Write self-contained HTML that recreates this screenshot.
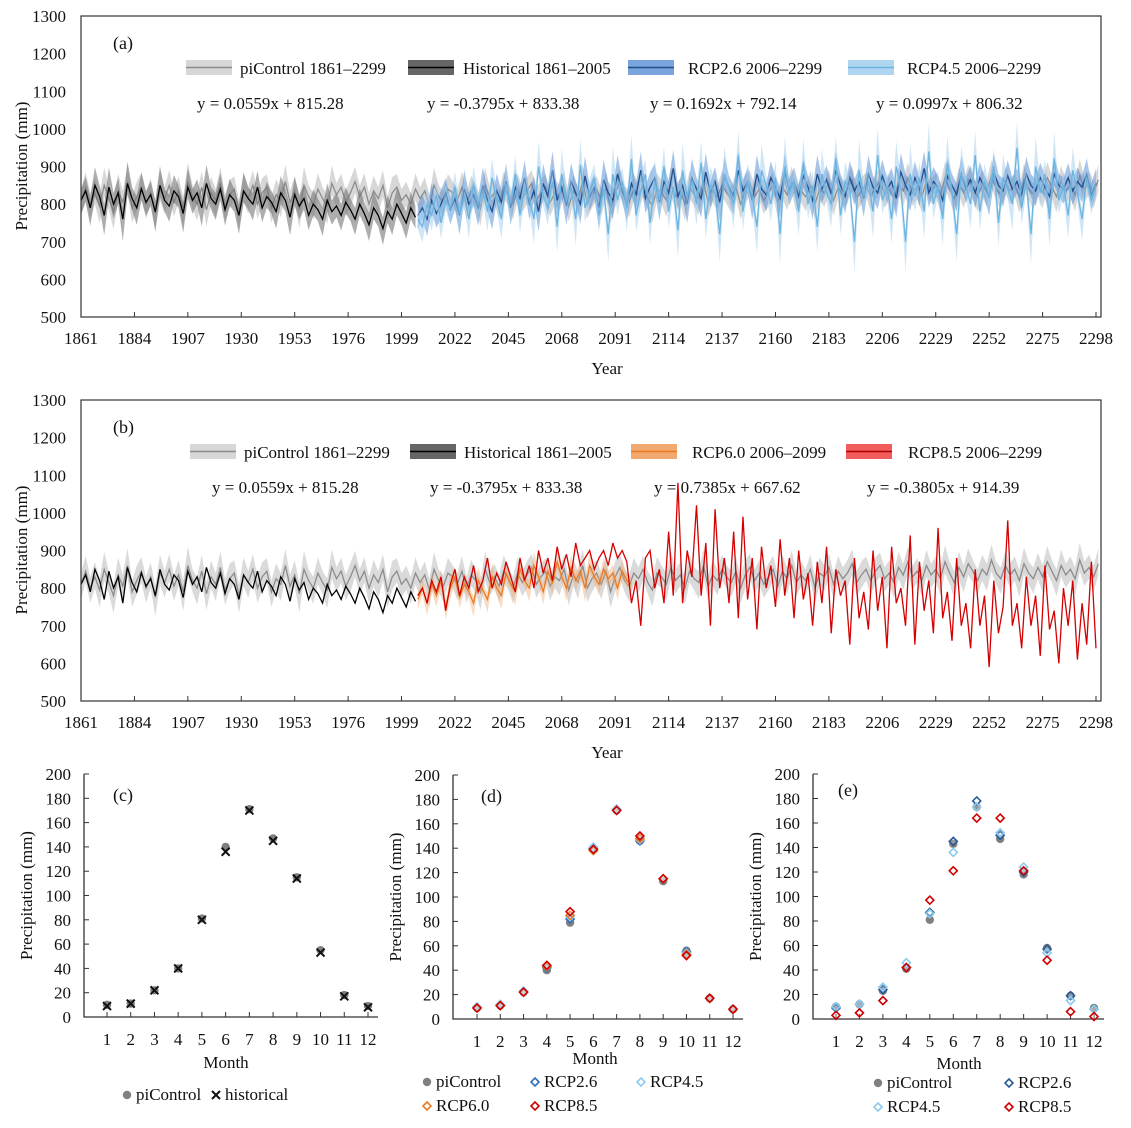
<!DOCTYPE html>
<html><head><meta charset="utf-8">
<style>
html,body{margin:0;padding:0;background:#fff;}
svg, svg text{font-family:"Liberation Serif","Times New Roman",serif;}
svg{display:block;}
</style></head>
<body>
<svg id="fig" width="1131" height="1128" viewBox="0 0 1131 1128" xmlns="http://www.w3.org/2000/svg" font-family="Liberation Serif, serif"></svg>
<script>
// ---------- annual series data (every 2 years) ----------
const piStart = 1861;
const piValues = [810,845,800,830,795,850,815,780,835,805,860,790,820,845,800,830,775,840,815,850,
805,835,790,860,820,800,845,785,830,810,855,795,825,840,780,835,815,850,800,830,
845,790,825,810,860,805,835,785,850,820,800,840,815,795,855,825,845,805,830,860,
820,845,800,835,815,850,790,830,845,810,825,800,840,815,835,795,850,820,805,840,
830,810,845,800,835,820,790,850,815,830,805,845,825,800,840,815,835,855,810,830,
845,805,830,820,850,795,835,815,860,800,825,840,810,845,790,830,855,820,805,840,
825,850,815,795,840,830,810,855,820,835,800,845,825,815,860,805,835,820,850,830,
815,845,800,835,855,820,840,810,830,850,805,845,825,860,815,835,820,850,800,840,
830,855,810,845,825,840,865,815,835,850,820,845,860,825,840,815,855,835,870,830,
845,820,860,835,850,825,870,840,815,855,830,865,845,820,850,835,875,840,825,860,
835,850,820,865,840,825,855,830,870,845,820,860,835,850,825,875,840,855,830,865];
const histStart = 1861;
const histValues = [810,835,790,850,820,770,845,800,830,760,855,815,790,840,805,825,780,850,810,795,
835,820,775,845,810,830,790,855,815,800,840,785,825,810,770,835,815,800,845,790,
820,805,780,830,810,765,825,795,815,770,800,785,760,810,780,795,770,805,785,760,
800,775,745,790,770,735,780,760,800,775,750,790,765];
const rcpStart = 2006;
const rcp26Values = [770,790,760,810,775,800,830,785,815,770,840,800,825,790,850,810,780,835,805,860,
790,845,815,870,800,835,780,855,820,890,810,845,795,860,830,800,875,820,845,790,
865,830,810,880,835,800,855,825,890,815,845,870,805,860,830,895,820,850,800,870,
840,815,885,830,860,805,875,845,820,890,835,860,810,880,840,825,870,845,815,885,
835,860,820,875,845,810,880,840,865,825,890,850,820,870,835,860,815,880,845,830,
875,840,860,815,885,850,825,870,840,895,830,860,845,810,875,850,825,880,840,865,
830,870,845,820,885,850,835,875,840,860,825,880,850,835,870,845,820,880,850,840,
870,835,860,845,880,825,855];
const rcp45Values = [760,740,800,770,825,750,810,790,845,775,820,760,850,800,835,780,870,810,760,855,
800,880,770,840,815,760,900,820,790,860,740,880,810,845,760,905,790,830,870,770,
840,720,880,810,860,790,920,770,835,880,750,860,810,900,780,845,730,890,820,860,
800,910,760,850,830,720,880,840,800,930,780,860,820,740,890,850,800,870,720,900,
830,860,780,910,800,850,740,880,830,800,920,770,860,840,700,890,820,860,780,930,
810,850,760,900,840,700,880,820,870,780,940,800,850,760,910,830,720,880,850,800,
930,780,860,820,900,750,870,840,800,950,790,860,720,900,830,880,760,920,810,850,
770,890,830,760,870,810,850];
const rcp60Values = [770,800,760,810,780,820,750,800,830,775,810,790,760,820,795,770,830,800,780,840,
810,790,850,820,800,860,830,790,845,815,870,830,800,855,820,845,800,860,830,810,850,825,840,800,845,820,810];
const rcp85Values = [780,800,760,820,790,830,740,810,850,780,830,800,860,790,820,880,800,840,810,870,
830,790,880,820,860,800,900,840,880,820,910,850,890,830,920,860,880,900,850,880,
900,860,920,880,900,870,760,820,700,880,900,800,850,760,950,780,1080,760,900,830,
1020,780,920,700,1010,800,880,760,950,720,990,770,880,690,910,800,860,750,930,780,
880,720,900,770,840,700,870,760,910,680,850,780,820,650,880,720,790,690,900,740,
830,640,910,760,800,700,940,650,870,740,820,680,960,720,790,660,880,700,760,640,
850,700,780,590,820,680,750,980,700,760,640,830,700,780,620,860,690,740,600,800,
700,820,610,760,650,870,640];
const yearStep = 2;
const yearTicks = [1861,1884,1907,1930,1953,1976,1999,2022,2045,2068,2091,2114,2137,2160,2183,2206,2229,2252,2275,2298];
const precipTicks = [500,600,700,800,900,1000,1100,1200,1300];

// ---------- monthly data ----------
const months = [1,2,3,4,5,6,7,8,9,10,11,12];
const monthTicks = [0,20,40,60,80,100,120,140,160,180,200];
const cPi   = [10,11,22,40,81,140,171,147,115,55,18,9];
const cHist = [9,11,22,40,80,136,170,145,114,53,17,8];
const dPi   = [9,11,22,40,79,139,171,146,113,56,17,8];
const d26   = [9,11,22,42,82,140,172,146,115,55,17,8];
const d45   = [10,12,23,43,84,141,172,147,115,54,17,8];
const d60   = [9,11,22,43,85,138,171,148,115,53,17,8];
const d85   = [9,11,22,44,88,139,171,150,115,52,17,8];
const ePi   = [10,12,23,41,81,143,173,147,118,58,19,9];
const e26   = [9,12,24,42,87,145,178,150,120,57,19,8];
const e45   = [10,12,26,46,86,136,173,152,124,54,15,8];
const e85   = [3,5,15,42,97,121,164,164,121,48,6,2];

const NS = "http://www.w3.org/2000/svg";
const svg = document.getElementById('fig');
function mk(tag, attrs, parent){
  const e = document.createElementNS(NS, tag);
  for (const k in attrs) e.setAttribute(k, attrs[k]);
  (parent||svg).appendChild(e);
  return e;
}
function txt(s, x, y, size, anchor, parent){
  const t = mk('text', {x:x, y:y, 'font-size':size, 'text-anchor':anchor||'start', fill:'#111', 'font-family':'Liberation Serif, Times New Roman, serif'}, parent);
  t.textContent = s;
  return t;
}

// ---------- time series panel ----------
function tsPanel(top, label, series, legend, eqs){
  const g = mk('g', {});
  
  
  const L = 81, R = 1101, T = top, B = top + 301;
  const xs = yr => L + (yr - 1861) * (1096 - 81) / (2298 - 1861);
  const ys = v => B - (v - 500) * (B - T) / 800;
  series.forEach(s => {
    const pts = s.values.map((v, i) => [xs(s.start + yearStep * i), ys(v)]);
    if (s.band) {
      const hi = s.values.map((v, i) => {
        const prev = i > 0 ? s.values[i-1] : v;
        return [xs(s.start + yearStep*i), ys(v + s.spread + Math.max(0, v - prev) * 0.3)];
      });
      const lo = s.values.map((v, i) => {
        const nxt = i < s.values.length-1 ? s.values[i+1] : v;
        return [xs(s.start + yearStep*i), ys(v - s.spread - Math.max(0, nxt - v) * 0.3)];
      }).reverse();
      const band = mk('polygon', {points: hi.concat(lo).map(p => p.join(',')).join(' '), fill: s.band, 'fill-opacity': s.bandOp}, g);
      
      
    }
    const line = mk('polyline', {points: pts.map(p => p.join(',')).join(' '), fill:'none', stroke: s.color, 'stroke-width': 1.3}, g);
    
    
  });
  const frame = mk('rect', {x:L, y:T, width:R-L, height:B-T, fill:'none', stroke:'#333', 'stroke-width':1.2}, g);
  
  
  precipTicks.forEach(v => {
    const t = txt(v, 66, ys(v) + 6, 17, 'end', g);
    
    
  });
  yearTicks.forEach(yr => {
    const tk = mk('line', {x1:xs(yr), x2:xs(yr), y1:B, y2:B-5, stroke:'#333'}, g);
    
    
    const t = txt(yr, xs(yr), B + 27, 17, 'middle', g);
    
    
  });
  const xt = txt('Year', 607, B + 57, 17, 'middle', g);
  
  
  const yt = txt('Precipitation (mm)', 0, 0, 17, 'middle', g);
  yt.setAttribute('transform', 'translate(27,' + (T + 150) + ') rotate(-90)');
  
  
  const pl = txt('(' + label + ')', 113, T + 33, 18, 'start', g);
  
  
  legend.forEach(l => {
    const sw = mk('rect', {x:l.x, y:T+44, width:46, height:15, fill:l.band, 'fill-opacity':0.9}, g);
    
    
    const ln = mk('line', {x1:l.x, x2:l.x+46, y1:T+51.5, y2:T+51.5, stroke:l.color, 'stroke-width':1.5}, g);
    
    
    const t = txt(l.text, l.tx, T + 58, 17, 'start', g);
    
    
  });
  eqs.forEach(e => {
    const t = txt(e.text, e.x, T + 93, 17, 'start', g);
    
    
  });
}

tsPanel(16, 'a', [
  {name:'picontrol', start:piStart, values:piValues, color:'#8c8c8c', band:'#d0d0d0', bandOp:0.85, spread:30},
  {name:'historical', start:histStart, values:histValues, color:'#000', band:'#777', bandOp:0.6, spread:30},
  {name:'rcp26', start:rcpStart, values:rcp26Values, color:'#1f4e8c', band:'#4d8ad6', bandOp:0.5, spread:30},
  {name:'rcp45', start:rcpStart, values:rcp45Values, color:'#6ab4e0', band:'#9fcdee', bandOp:0.5, spread:25}
],[
  {x:186, tx:240, text:'piControl 1861–2299', band:'#d3d3d3', color:'#8c8c8c'},
  {x:408, tx:463, text:'Historical 1861–2005', band:'#555', color:'#000'},
  {x:628, tx:688, text:'RCP2.6 2006–2299', band:'#6a9ad8', color:'#1f4e8c'},
  {x:848, tx:907, text:'RCP4.5 2006–2299', band:'#a7d0ef', color:'#6ab4e0'}
],[
  {x:197, text:'y = 0.0559x + 815.28'},
  {x:427, text:'y = -0.3795x + 833.38'},
  {x:650, text:'y = 0.1692x + 792.14'},
  {x:876, text:'y = 0.0997x + 806.32'}
]);

tsPanel(400, 'b', [
  {name:'picontrol', start:piStart, values:piValues, color:'#8c8c8c', band:'#d3d3d3', bandOp:0.85, spread:30},
  {name:'historical', start:histStart, values:histValues, color:'#000'},
  {name:'rcp60', start:rcpStart, values:rcp60Values, color:'#ea7a22', band:'#f2a364', bandOp:0.4, spread:18},
  {name:'rcp85', start:rcpStart, values:rcp85Values, color:'#d40000'}
],[
  {x:190, tx:244, text:'piControl 1861–2299', band:'#d3d3d3', color:'#8c8c8c'},
  {x:410, tx:464, text:'Historical 1861–2005', band:'#555', color:'#000'},
  {x:631, tx:692, text:'RCP6.0 2006–2099', band:'#f0a060', color:'#ea7a22'},
  {x:846, tx:908, text:'RCP8.5 2006–2299', band:'#f04a4a', color:'#b00000'}
],[
  {x:212, text:'y = 0.0559x + 815.28'},
  {x:430, text:'y = -0.3795x + 833.38'},
  {x:654, text:'y = 0.7385x + 667.62'},
  {x:867, text:'y = -0.3805x + 914.39'}
]);

// ---------- monthly panels ----------
function marker(g, kind, x, y, color){
  let m;
  if (kind === 'dot') {
    m = mk('circle', {cx:x, cy:y, r:4.2, fill:color}, g);
  } else if (kind === 'cross') {
    m = mk('path', {d:`M${x-4},${y-4}L${x+4},${y+4}M${x-4},${y+4}L${x+4},${y-4}`, stroke:color, 'stroke-width':2}, g);
  } else {
    m = mk('path', {d:`M${x},${y-4}L${x+4},${y}L${x},${y+4}L${x-4},${y}Z`, fill:'#fff', 'fill-opacity':0.2, stroke:color, 'stroke-width':1.6}, g);
  }
  return m;
}
function monthPanel(label, axX, m1, m12, y200, y0, series, legend, monthTitle, lbl){
  const g = mk('g', {});
  
  
  const xs = m => m1 + (m - 1) * (m12 - m1) / 11;
  const ys = v => y0 - v * (y0 - y200) / 200;
  const ax = mk('path', {d:`M${axX},${y200}L${axX},${y0}L${m12+10},${y0}`, fill:'none', stroke:'#333', 'stroke-width':1.3}, g);
  
  
  monthTicks.forEach(v => {
    const tk = mk('line', {x1:axX, x2:axX+5, y1:ys(v), y2:ys(v), stroke:'#333'}, g);
    
    
    const t = txt(v, axX - 13, ys(v) + 6, 17, 'end', g);
    
    
  });
  months.forEach(m => {
    const tk = mk('line', {x1:xs(m), x2:xs(m), y1:y0, y2:y0-5, stroke:'#333'}, g);
    
    
    const t = txt(m, xs(m), y0 + 28, 17, 'middle', g);
    
    
  });
  const xt = txt('Month', monthTitle.x, monthTitle.y, 17, 'middle', g);
  
  
  const yt = txt('Precipitation (mm)', 0, 0, 17, 'middle', g);
  yt.setAttribute('transform', 'translate(' + (axX - 52) + ',' + ((y0 + y200) / 2) + ') rotate(-90)');
  
  
  const pl = txt('(' + label + ')', lbl.x, lbl.y, 18, 'start', g);
  
  
  series.forEach(s => {
    s.values.forEach((v, i) => {
      const mm = marker(g, s.kind, xs(months[i]), ys(v), s.color);
      
      
    });
  });
  legend.forEach(l => {
    const mm = marker(g, l.kind, l.x, l.y - 5, l.color);
    
    
    const t = txt(l.text, l.x + 9, l.y, 17, 'start', g);
    
    
  });
}

monthPanel('c', 84, 107, 368, 774, 1017, [
  {name:'picontrol', kind:'dot', values:cPi, color:'#808080'},
  {name:'historical', kind:'cross', values:cHist, color:'#111'}
],[
  {kind:'dot', x:127, y:1100, color:'#808080', text:'piControl'},
  {kind:'cross', x:216, y:1100, color:'#111', text:'historical'}
], {x:226, y:1068}, {x:113, y:801});

monthPanel('d', 453, 477, 733, 775, 1019, [
  {name:'picontrol', kind:'dot', values:dPi, color:'#808080'},
  {name:'rcp26', kind:'dia', values:d26, color:'#2f6fbf'},
  {name:'rcp45', kind:'dia', values:d45, color:'#8ccbef'},
  {name:'rcp60', kind:'dia', values:d60, color:'#e87a20'},
  {name:'rcp85', kind:'dia', values:d85, color:'#d00000'}
],[
  {kind:'dot', x:427, y:1087, color:'#808080', text:'piControl'},
  {kind:'dia', x:535, y:1087, color:'#2f6fbf', text:'RCP2.6'},
  {kind:'dia', x:641, y:1087, color:'#8ccbef', text:'RCP4.5'},
  {kind:'dia', x:427, y:1111, color:'#e87a20', text:'RCP6.0'},
  {kind:'dia', x:535, y:1111, color:'#d00000', text:'RCP8.5'}
], {x:595, y:1064}, {x:481, y:802});

monthPanel('e', 813, 836, 1094, 774, 1019, [
  {name:'picontrol', kind:'dot', values:ePi, color:'#808080'},
  {name:'rcp26', kind:'dia', values:e26, color:'#2a5a9a'},
  {name:'rcp45', kind:'dia', values:e45, color:'#8ccbef'},
  {name:'rcp85', kind:'dia', values:e85, color:'#d00000'}
],[
  {kind:'dot', x:878, y:1088, color:'#808080', text:'piControl'},
  {kind:'dia', x:1009, y:1088, color:'#2a5a9a', text:'RCP2.6'},
  {kind:'dia', x:878, y:1112, color:'#8ccbef', text:'RCP4.5'},
  {kind:'dia', x:1009, y:1112, color:'#d00000', text:'RCP8.5'}
], {x:959, y:1069}, {x:838, y:796});
</script>
</body></html>
